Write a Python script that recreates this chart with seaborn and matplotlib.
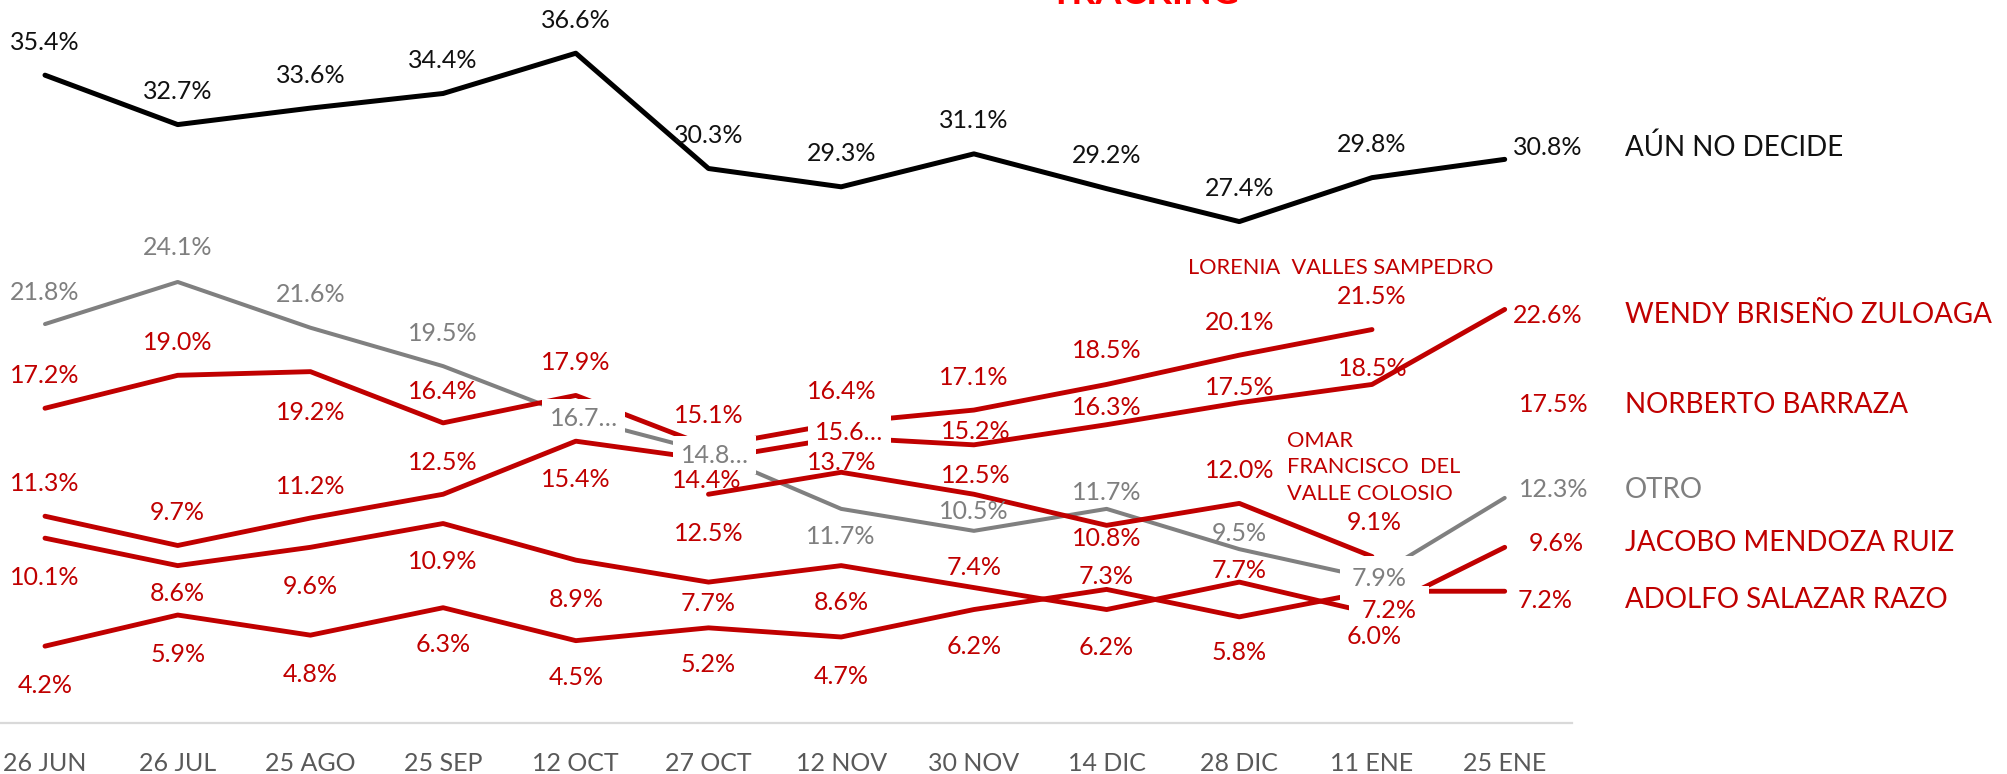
"""Tracking de preferencia: líneas por candidato con etiquetas de valor."""

import matplotlib
matplotlib.use("Agg")
import matplotlib.pyplot as plt
import numpy as np
import pandas as pd
import seaborn as sns

nan = np.nan

FECHAS = ["26 JUN", "26 JUL", "25 AGO", "25 SEP", "12 OCT", "27 OCT",
          "12 NOV", "30 NOV", "14 DIC", "28 DIC", "11 ENE", "25 ENE"]

AUN_NO_DECIDE = [35.4, 32.7, 33.6, 34.4, 36.6, 30.3, 29.3, 31.1, 29.2, 27.4, 29.8, 30.8]
WENDY = [11.3, 9.7, 11.2, 12.5, 15.4, 14.4, 15.6, 15.2, 16.3, 17.5, 18.5, 22.6]
NORBERTO = [17.2, 19.0, 19.2, 16.4, 17.9, 15.1, nan, nan, nan, nan, nan, 17.5]
LORENIA = [nan, nan, nan, nan, nan, 15.1, 16.4, 17.1, 18.5, 20.1, 21.5, nan]
OTRO = [21.8, 24.1, 21.6, 19.5, 16.7, 14.8, 11.7, 10.5, 11.7, 9.5, 7.9, 12.3]
OMAR = [nan, nan, nan, nan, nan, 12.5, 13.7, 12.5, 10.8, 12.0, 9.1, nan]
JACOBO = [10.1, 8.6, 9.6, 10.9, 8.9, 7.7, 8.6, 7.4, 6.2, 7.7, 6.0, 9.6]
ADOLFO = [4.2, 5.9, 4.8, 6.3, 4.5, 5.2, 4.7, 6.2, 7.3, 5.8, 7.2, 7.2]

BLACK = "#000000"
RED = "#C00000"
GRAY = "#808080"

# name, values, line color, text color, line width, name shown at right
SERIES = [
    ("AÚN NO DECIDE", AUN_NO_DECIDE, BLACK, "#111111", 3.6, True),
    ("OTRO", OTRO, GRAY, "#7F7F7F", 2.9, True),
    ("NORBERTO BARRAZA", NORBERTO, RED, RED, 3.5, True),
    ("LORENIA  VALLES SAMPEDRO", LORENIA, RED, RED, 3.5, False),
    ("WENDY BRISEÑO ZULOAGA", WENDY, RED, RED, 3.5, True),
    ("OMAR\nFRANCISCO  DEL\nVALLE COLOSIO", OMAR, RED, RED, 3.5, False),
    ("JACOBO MENDOZA RUIZ", JACOBO, RED, RED, 3.5, True),
    ("ADOLFO SALAZAR RAZO", ADOLFO, RED, RED, 3.5, True),
]

# label offsets from each point, in pixels (dx right, dy down); None = no label
UP = (0, -33)
DN = (0, 38)
LABEL_OFFSETS = {
    "AÚN NO DECIDE": [UP] * 11 + [(43, -12)],
    "OTRO": [(0, -32), (0, -34), UP, UP, (8, 1), (6, 3), (0, 28), (0, -19),
             (0, -16), (0, -16), (7, 0), (49, -8)],
    "NORBERTO BARRAZA": [UP, UP, (0, 41), (0, -31), UP, (0, -31),
                         None, None, None, None, None, (49, 2)],
    "LORENIA  VALLES SAMPEDRO": [None] * 6 + [(1, -31), UP, (0, -34), UP, UP, None],
    "WENDY BRISEÑO ZULOAGA": [UP, UP, (0, -32), (0, -32), DN, (-2, 21), (8, -5),
                              (2, -13), (0, -17), (0, -15), (1, -16), (43, 6)],
    "OMAR\nFRANCISCO  DEL\nVALLE COLOSIO": [None] * 5 + [(0, 39), (1, -10), (2, -19),
                                             (0, 13), UP, (2, -34), None],
    "JACOBO MENDOZA RUIZ": [(0, 39), (0, 28), (0, 39), DN, (0, 39), (0, 21), (0, 37),
                            (0, -20), DN, (0, -12), (2, 23), (52, -4)],
    "ADOLFO SALAZAR RAZO": [(0, 39), (0, 39), (0, 39), (0, 37), (0, 37), (0, 37),
                            (0, 40), (0, 37), (0, -13), (0, 36), (17, 19), (40, 9)],
}
# labels drawn on a white box (they hide the lines beneath)
BOXED = {("OTRO", 4): 0.3, ("OTRO", 5): 0.3, ("OTRO", 10): 0.45,
         ("WENDY BRISEÑO ZULOAGA", 6): 0.3, ("ADOLFO SALAZAR RAZO", 10): 0.5}
TRUNCATED = {("OTRO", 4), ("OTRO", 5), ("WENDY BRISEÑO ZULOAGA", 6)}

# inline names (offset in pixels from last point, left aligned)
INLINE_NAMES = {"LORENIA  VALLES SAMPEDRO": (-184, -62),
                "OMAR\nFRANCISCO  DEL\nVALLE COLOSIO": (-85, -89)}

W, H = 2008, 774
X0, DX = 45, 132.7       # pixel position of first date, spacing
Y0, DY = 723, 18.3       # pixel row of zero, pixels per point
X_RIGHT = 1572


def build_long(values: list, name: str) -> pd.DataFrame:
    df = pd.DataFrame({"pos": np.arange(len(values)), "valor": values})
    df["serie"] = name
    df["tramo"] = df["valor"].isna().cumsum()
    return df.dropna(subset=["valor"])


def main() -> None:
    sns.set_style("white")
    plt.rcParams["font.family"] = ["Lato", "DejaVu Sans"]

    fig = plt.figure(figsize=(W / 100, H / 100), dpi=100)
    ax = fig.add_axes([0, (H - Y0) / H, X_RIGHT / W, Y0 / H])
    ax.set_xlim(-X0 / DX, (X_RIGHT - X0) / DX)
    ax.set_ylim(0, Y0 / DY)

    for name, values, color, tcolor, lw, at_right in SERIES:
        df = build_long(values, name)
        sns.lineplot(data=df, x="pos", y="valor", units="tramo", estimator=None,
                     color=color, linewidth=lw, sort=False, legend=False, ax=ax,
                     zorder=2)
        offsets = LABEL_OFFSETS[name]
        for i, v in enumerate(values):
            off = offsets[i]
            if off is None or np.isnan(v):
                continue
            text = f"{v:.1f}…" if (name, i) in TRUNCATED else f"{v:.1f}%"
            kw = {}
            z = 4
            if (name, i) in BOXED:
                kw["bbox"] = dict(boxstyle=f"square,pad={BOXED[(name, i)]}",
                                  fc="white", ec="none")
                z = 3
            ax.annotate(text, (i, v), xytext=(off[0], -off[1]),
                        textcoords="offset pixels", ha="center", va="center",
                        fontsize=18, color=tcolor, zorder=z,
                        annotation_clip=False, **kw)
        if at_right:
            last = len(values) - 1
            ax.annotate(name, (last, values[last]),
                        xytext=(120, -offsets[last][1]),
                        textcoords="offset pixels", ha="left", va="center",
                        fontsize=20, color=tcolor, annotation_clip=False)
        if name in INLINE_NAMES:
            last = max(i for i, v in enumerate(values) if not np.isnan(v))
            dx, dy = INLINE_NAMES[name]
            ax.annotate(name, (last, values[last]), xytext=(dx, -dy),
                        textcoords="offset pixels", ha="left", va="center",
                        fontsize=15.7, color=tcolor, linespacing=1.4,
                        annotation_clip=False)

    ax.set_xticks(range(len(FECHAS)))
    ax.set_xticklabels(FECHAS)
    ax.tick_params(axis="x", length=0, pad=21, labelsize=18, labelcolor="#595959")
    ax.set_yticks([])
    ax.set_xlabel("")
    ax.set_ylabel("")
    for side in ("top", "left", "right"):
        ax.spines[side].set_visible(False)
    ax.spines["bottom"].set_color("#D9D9D9")
    ax.spines["bottom"].set_linewidth(1.6)

    # the title sits mostly above the canvas, as in the source image
    fig.text(1145 / W, (H - 4) / H, "TRACKING", ha="center", va="baseline",
             fontsize=27, fontweight="bold", color="#FF0000")

    fig.savefig("out.png", dpi=100)
    plt.close(fig)


if __name__ == "__main__":
    main()
